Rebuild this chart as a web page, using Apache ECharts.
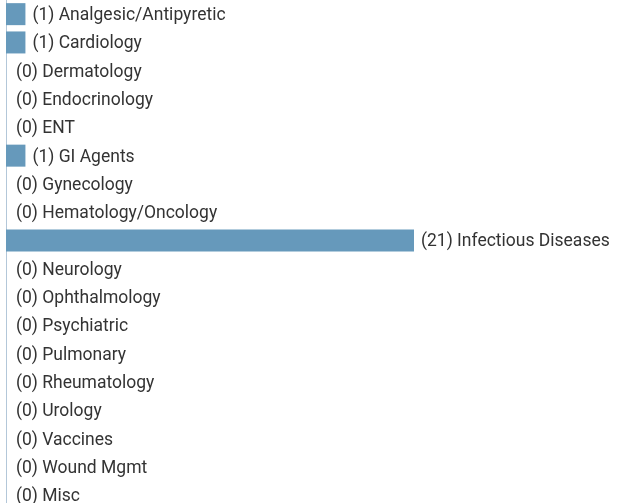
<!DOCTYPE html>
<html><head><meta charset="utf-8">
<script src="https://cdn.jsdelivr.net/npm/echarts@6/dist/echarts.min.js"></script>
<style>html,body{margin:0;padding:0;background:#fff;overflow:hidden;height:503px}#c{width:629px;height:512px}</style>
</head><body><div id="c"></div>
<script>
const categories = ["Analgesic/Antipyretic","Cardiology","Dermatology","Endocrinology","ENT","GI Agents","Gynecology","Hematology/Oncology","Infectious Diseases","Neurology","Ophthalmology","Psychiatric","Pulmonary","Rheumatology","Urology","Vaccines","Wound Mgmt","Misc"];
const counts = [1,1,0,0,0,1,0,0,21,0,0,0,0,0,0,0,0,0];

const chart = echarts.init(document.getElementById('c'), null, {renderer:'canvas'});
chart.setOption({
  animation:false,
  grid:{left:6, top:0, width:408, height:509.4, containLabel:false},
  xAxis:{type:'value', min:0, max:21, show:false},
  yAxis:{type:'category', data:categories, inverse:true,
    axisLine:{show:true, lineStyle:{color:'#b3c7d9', width:1}},
    axisTick:{show:false}, axisLabel:{show:false}, splitLine:{show:false}},
  series:[{
    type:'bar', barWidth:22,
    data:counts.map((v,i)=>({value:v, label:{distance: v===0?10:7}})),
    itemStyle:{color:'#6699BB'},
    label:{show:true, position:'right', color:'#333', fontFamily:'Roboto', fontSize:17.5, offset:[0,1.5],
      formatter:p=>'('+p.value+') '+categories[p.dataIndex]}
  }]
});
</script></body></html>
